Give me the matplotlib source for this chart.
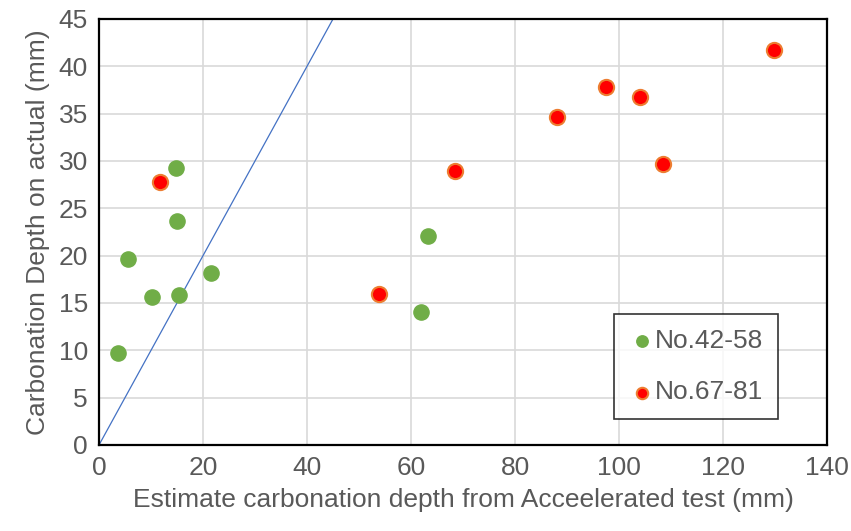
import numpy as np
import matplotlib.pyplot as plt

plt.rcParams['font.family'] = ['Liberation Sans', 'DejaVu Sans']

# No.42-58 series
g_x = [3.6, 5.6, 10.2, 14.8, 15.0, 15.4, 21.5, 62.0, 63.2]
g_y = [9.7, 19.7, 15.6, 29.3, 23.7, 15.8, 18.2, 14.1, 22.1]

# No.67-81 series
r_x = [11.8, 53.8, 68.5, 88.1, 97.5, 104.0, 108.5, 129.8]
r_y = [27.8, 16.0, 28.9, 34.7, 37.8, 36.8, 29.7, 41.7]

# 1:1 reference line
ref_x = [0, 45]
ref_y = [0, 45]

xticks = list(range(0, 141, 20))
yticks = list(range(0, 46, 5))

txt = '#595959'

fig = plt.figure(figsize=(8.51, 5.31), dpi=100)
ax = fig.add_axes([99 / 851, 1 - 445 / 531, 728 / 851, 426 / 531])

ax.plot(ref_x, ref_y, color='#4472C4', lw=0.9, zorder=2)
ax.scatter(g_x, g_y, s=120, color='#70AD47', edgecolors='#70AD47', linewidths=1, zorder=3, label='No.42-58')
ax.scatter(r_x, r_y, s=120, color='#FF0000', edgecolors='#ED7D31', linewidths=1.5, zorder=3, label='No.67-81')

ax.set_xlim(0, 140)
ax.set_ylim(0, 45)
ax.set_xticks(xticks)
ax.set_yticks(yticks)
ax.grid(True, color='#D9D9D9', lw=1.2)
ax.set_axisbelow(True)
for s in ax.spines.values():
    s.set_color('black')
    s.set_linewidth(1.6)
ax.tick_params(length=0, labelsize=19, colors=txt, pad=8)

ax.set_xlabel('Estimate carbonation depth from Acceelerated test (mm)', fontsize=19, color=txt, labelpad=6)
ax.set_ylabel('Carbonation Depth on actual (mm)', fontsize=19, color=txt, labelpad=6)

leg = ax.legend(loc='lower right', bbox_to_anchor=(778 / 851, 1 - 419 / 531), bbox_transform=fig.transFigure,
                fontsize=19, frameon=True, fancybox=False, edgecolor='black', handletextpad=0.0,
                handlelength=1.0, markerscale=0.75, labelspacing=1.05, borderpad=0.55,
                borderaxespad=0)
leg.get_frame().set_linewidth(1.2)
for t in leg.get_texts():
    t.set_color(txt)

fig.savefig('out.png', dpi=100)
